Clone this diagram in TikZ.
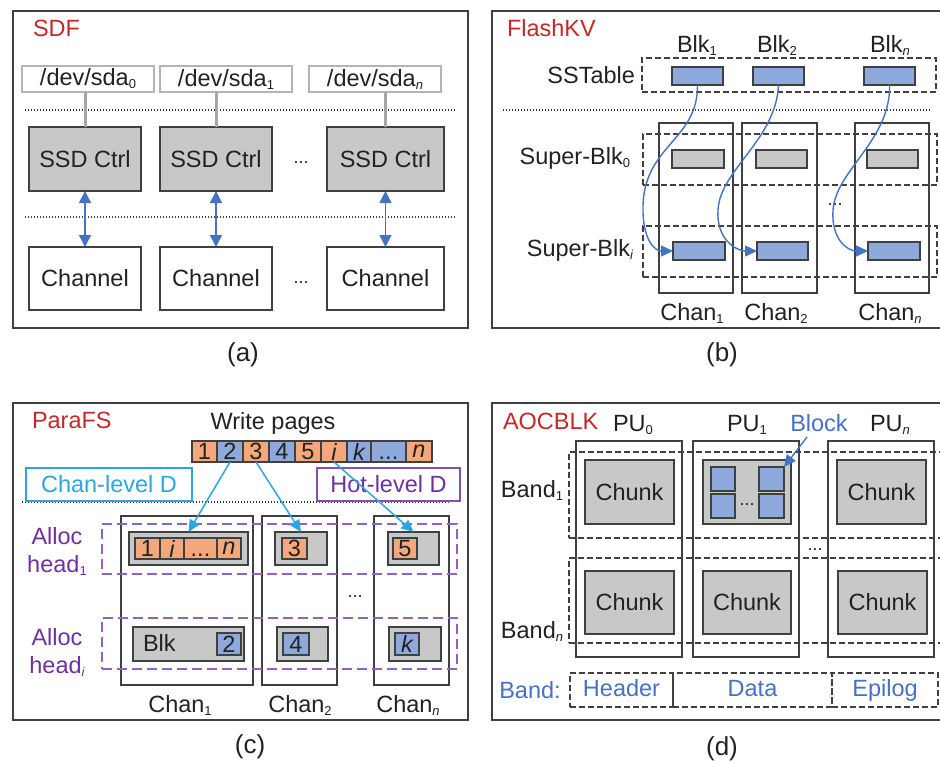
\documentclass[tikz,border=0pt]{standalone}
\usepackage{fontspec}
\setmainfont{Liberation Sans}
\usetikzlibrary{arrows.meta}
\definecolor{txt}{HTML}{222222}
\definecolor{ttl}{HTML}{C62828}
\definecolor{frm}{HTML}{404040}
\definecolor{gfill}{HTML}{C8C8C8}
\definecolor{bfill}{HTML}{8EA9DB}
\definecolor{ofill}{HTML}{F4A77A}
\definecolor{barr}{HTML}{4472C4}
\definecolor{cyn}{HTML}{2AA7E0}
\definecolor{pur}{HTML}{7030A0}
\definecolor{purd}{HTML}{9361C4}
\definecolor{lgr}{HTML}{B4B4B4}
\definecolor{cgr}{HTML}{A6A6A6}
\newcommand{\dfs}{\fontsize{23.5}{28}\selectfont}
\newcommand{\sbs}[1]{\raisebox{-3pt}{\fontsize{13}{13}\selectfont #1}}
\newcommand{\celldots}{\vphantom{0}...}
\newcommand{\rbox}[7]{\node[#1,minimum width={#5-#3},minimum height={#6-#4}] (#2) at ({(#3+#5)/2},{(#4+#6)/2}) {#7};}
\tikzset{
  every node/.style={inner sep=0pt, outer sep=0pt, text=txt, font=\dfs},
  panel/.style={draw=frm, line width=1.4pt, fill=white},
  devbox/.style={draw=lgr, line width=1.2pt, fill=white},
  ctrlbox/.style={draw=frm, line width=1.4pt, fill=gfill},
  chanbox/.style={draw=frm, line width=1.4pt, fill=white},
  colbox/.style={draw=frm, line width=1.2pt},
  dashbox/.style={draw=frm, line width=1.2pt, dash pattern=on 6pt off 3pt},
  bandbox/.style={dashbox, text=barr, text height=17pt, text depth=5pt},
  cldbox/.style={draw=cyn, line width=1.3pt, fill=white, text=cyn},
  hldbox/.style={draw=pur!85, line width=1.3pt, fill=white, text=pur},
  pdash/.style={draw=purd, line width=1.2pt, dash pattern=on 10pt off 5pt},
  bc/.style={draw=frm, line width=1.2pt, fill=bfill},
  gc/.style={draw=frm, line width=1.2pt, fill=gfill},
  oc/.style={draw=frm, line width=1.2pt, fill=ofill},
  dotln/.style={draw=frm, line width=1.3pt, dash pattern=on 1.3pt off 1.7pt},
  gline/.style={draw=cgr, line width=3pt},
  darrow/.style={draw=barr, line width=1.4pt, {Triangle[width=12pt,length=12pt]}-{Triangle[width=12pt,length=12pt]}},
  barrow/.style={draw=barr, line width=1.4pt, -{Triangle[width=11pt,length=12pt]}},
  carrow/.style={draw=cyn, line width=1.5pt, -{Triangle[width=11pt,length=12pt]}},
  dots/.style={font=\fontsize{18}{20}\selectfont},
  figcap/.style={font=\fontsize{26}{30}\selectfont}
}
\begin{document}
\begin{tikzpicture}[x=1pt,y=-1pt]
\clip (0,0) rectangle (940,763);
\fill[white] (0,0) rectangle (940,763);

% ---------------- (a) SDF ----------------
\rbox{panel}{pa}{13}{11}{468}{328}{}
\node[anchor=west,text=ttl] (ta) at (33,28) {SDF};
\rbox{devbox}{d0}{22}{66}{154}{92}{/dev/sda\sbs{0}}
\rbox{devbox}{d1}{160}{66}{292}{92}{/dev/sda\sbs{1}}
\rbox{devbox}{d2}{309}{66}{441}{92}{/dev/sda\sbs{\itshape n}}
\draw[dotln] (25,110) -- (455,110);
\draw[dotln] (25,217) -- (455,217);
\rbox{ctrlbox}{c0}{29}{127}{141}{191}{SSD Ctrl}
\rbox{ctrlbox}{c1}{160}{127}{272}{191}{SSD Ctrl}
\rbox{ctrlbox}{c2}{327}{127}{444}{191}{SSD Ctrl}
\rbox{chanbox}{h0}{29}{247}{141}{310}{Channel}
\rbox{chanbox}{h1}{160}{247}{272}{310}{Channel}
\rbox{chanbox}{h2}{327}{247}{444}{310}{Channel}
\node[dots] (ea1) at (301,163) {...};
\node[dots] (ea2) at (301,283) {...};
\foreach \i in {0,1,2}{
  \draw[gline] (c\i.north) -- (c\i.north |- d\i.south);
  \draw[darrow] (c\i.south) -- (h\i.north);
}
\node[figcap] (la) at (243,355) {(a)};

% ---------------- (b) FlashKV ----------------
\rbox{panel}{pb}{492}{11}{945}{328}{}
\node[anchor=west,text=ttl] (tb) at (507,28) {FlashKV};
\node (bk1) at (697,45) {Blk\sbs{1}};
\node (bk2) at (777,45) {Blk\sbs{2}};
\node (bk3) at (890,45) {Blk\sbs{\itshape n}};
\node[anchor=east] (sst) at (635,75) {SSTable};
\rbox{dashbox}{sstb}{642}{58}{936}{92}{}
\draw[dotln] (503,110) -- (930,110);
\rbox{colbox}{ch1}{659}{123}{733}{293}{}
\rbox{colbox}{ch2}{742}{123}{817}{293}{}
\rbox{colbox}{ch3}{855}{123}{929}{293}{}
\rbox{dashbox}{sb0}{643}{134}{937}{185}{}
\rbox{dashbox}{sbi}{643}{226}{937}{277}{}
\rbox{bc}{t1}{672}{67}{723}{85}{}
\rbox{bc}{t2}{753}{67}{804}{85}{}
\rbox{bc}{t3}{864}{67}{915}{85}{}
\rbox{gc}{g1}{672}{150}{724}{168}{}
\rbox{gc}{g2}{756}{150}{807}{168}{}
\rbox{gc}{g3}{867}{150}{918}{168}{}
\rbox{bc}{u1}{673}{242}{725}{260}{}
\rbox{bc}{u2}{757}{242}{808}{260}{}
\rbox{bc}{u3}{868}{242}{920}{260}{}
\node[dots] (eb) at (835,205) {...};
\node[anchor=east] (sb0l) at (630,158) {Super-Blk\sbs{0}};
\node[anchor=east] (sbil) at (633,250) {Super-Blk\sbs{\itshape i}};
\node (cn1) at (692,313) {Chan\sbs{1}};
\node (cn2) at (776,313) {Chan\sbs{2}};
\node (cn3) at (890,313) {Chan\sbs{\itshape n}};
\draw[barrow] (t1.south) .. controls (698,140) and (645,145) .. (643,205) .. controls (642,240) and (655,251) .. (u1.west);
\draw[barrow] (t2.south) .. controls (776,140) and (720,170) .. (718,210) .. controls (716,240) and (737,251) .. (u2.west);
\draw[barrow] (t3.south) .. controls (891,140) and (836,170) .. (833,210) .. controls (831,240) and (848,251) .. (u3.west);
\node[figcap] (lb) at (722,355) {(b)};

% ---------------- (c) ParaFS ----------------
\rbox{panel}{pc}{13}{403}{468}{720}{}
\node[anchor=west,text=ttl] (tc) at (32,420) {ParaFS};
\node (wp) at (273,423) {Write pages};
\rbox{oc}{w1}{192}{441}{217}{462}{1}
\rbox{bc}{w2}{217}{441}{243}{462}{2}
\rbox{oc}{w3}{243}{441}{269}{462}{3}
\rbox{bc}{w4}{269}{441}{295}{462}{4}
\rbox{oc}{w5}{295}{441}{321}{462}{5}
\rbox{oc}{w6}{321}{441}{347}{462}{\itshape i}
\rbox{bc}{w7}{347}{441}{371}{462}{\itshape k}
\rbox{bc}{w8}{371}{441}{406}{462}{\celldots}
\rbox{oc}{w9}{406}{441}{432}{462}{\itshape n}
\draw[dotln] (22,502) -- (450,502);
\rbox{cldbox}{cld}{26}{468}{192}{501}{Chan-level D}
\rbox{hldbox}{hld}{317}{468}{460}{501}{Hot-level D}
\rbox{colbox}{cc1}{121}{516}{253}{685}{}
\rbox{colbox}{cc2}{262}{516}{337}{685}{}
\rbox{colbox}{cc3}{374}{516}{449}{685}{}
\rbox{pdash}{ah1box}{102}{524}{457}{574}{}
\rbox{pdash}{ahibox}{102}{618}{457}{669}{}
\rbox{gc}{r1}{129}{532}{248}{565}{}
\rbox{oc}{r1a}{135}{538}{160}{559}{1}
\rbox{oc}{r1b}{160}{538}{184}{559}{\itshape i}
\rbox{oc}{r1c}{184}{538}{217}{559}{\celldots}
\rbox{oc}{r1d}{217}{538}{241}{559}{\itshape n}
\rbox{gc}{r2}{275}{532}{327}{565}{}
\rbox{oc}{r2a}{282}{538}{307}{559}{3}
\rbox{gc}{r3}{388}{532}{439}{565}{}
\rbox{oc}{r3a}{393}{538}{417}{559}{5}
\rbox{gc}{s1}{133}{627}{244}{661}{}
\node[anchor=west] (blk) at (143,643) {Blk};
\rbox{bc}{s1a}{217}{633}{241}{655}{2}
\rbox{gc}{s2}{277}{627}{328}{661}{}
\rbox{bc}{s2a}{283}{633}{309}{655}{4}
\rbox{gc}{s3}{389}{627}{441}{661}{}
\rbox{bc}{s3a}{395}{633}{419}{655}{\itshape k}
\node[dots] (ec) at (355,597) {...};
\node[text=pur,align=center] (ah1) at (57,551) {Alloc\\head\sbs{1}};
\node[text=pur,align=center] (ahi) at (57,652) {Alloc\\head\sbs{\itshape i}};
\node (cl1) at (180,705) {Chan\sbs{1}};
\node (cl2) at (300,705) {Chan\sbs{2}};
\node (cl3) at (408,705) {Chan\sbs{\itshape n}};
\draw[carrow] (w2.south) -- (r1.north);
\draw[carrow] (w3.south) -- (r2.north);
\draw[carrow] (w6.south) -- (r3.north);
\node[figcap] (lc) at (250,747) {(c)};

% ---------------- (d) AOCBLK ----------------
\rbox{panel}{pd}{492}{403}{945}{720}{}
\node[anchor=west,text=ttl] (td) at (503,421) {AOCBLK};
\node (pu0) at (633,425) {PU\sbs{0}};
\node (pu1) at (747,425) {PU\sbs{1}};
\node[text=barr] (blkl) at (819,423) {Block};
\node (pun) at (890,425) {PU\sbs{\itshape n}};
\rbox{colbox}{pc0}{576}{441}{682}{657}{}
\rbox{colbox}{pc1}{693}{441}{799}{657}{}
\rbox{colbox}{pc2}{828}{441}{934}{657}{}
\rbox{dashbox}{bd1}{569}{452}{948}{538}{}
\rbox{dashbox}{bdn}{569}{558}{948}{643}{}
\rbox{gc}{k1}{585}{460}{674}{524}{Chunk}
\rbox{gc}{k2}{703}{460}{791}{524}{}
\rbox{gc}{k3}{837}{460}{926}{524}{Chunk}
\rbox{gc}{k4}{585}{571}{674}{634}{Chunk}
\rbox{gc}{k5}{703}{571}{791}{634}{Chunk}
\rbox{gc}{k6}{838}{571}{927}{634}{Chunk}
\rbox{bc}{q1}{711}{467}{735}{491}{}
\rbox{bc}{q2}{711}{494}{735}{518}{}
\rbox{bc}{q3}{759}{467}{784}{491}{}
\rbox{bc}{q4}{759}{494}{784}{518}{}
\node[dots] (eq) at (747,505) {...};
\node[dots] (ed) at (815,550) {...};
\coordinate (bs) at (807,437);
\draw[barrow] (bs) -- (q3.north east);
\node (bnd1) at (532,490) {Band\sbs{1}};
\node (bndn) at (532,631) {Band\sbs{\itshape n}};
\node[text=barr] (bndl) at (530,690) {Band:};
\rbox{bandbox}{hdr}{570}{673}{673}{707}{Header}
\rbox{bandbox}{dat}{673}{673}{832}{707}{Data}
\rbox{bandbox}{epi}{832}{673}{938}{707}{Epilog}
\node[figcap] (ld) at (722,749) {(d)};
\end{tikzpicture}
\end{document}
